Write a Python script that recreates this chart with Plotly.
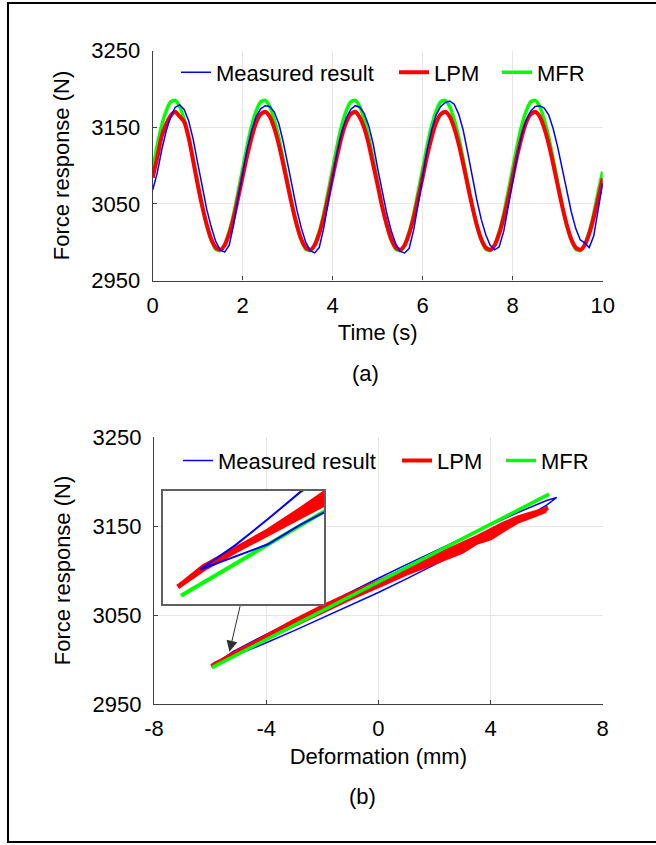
import plotly.graph_objects as go

W, H = 656, 845

# ---------------- (a) time history ----------------
time_s = [0.0, 0.1, 0.2, 0.3, 0.4, 0.5, 0.6, 0.7, 0.8, 0.9,
          1.0, 1.1, 1.2, 1.3, 1.4, 1.5, 1.6, 1.7, 1.8, 1.9,
          2.0, 2.1, 2.2, 2.3, 2.4, 2.5, 2.6, 2.7, 2.8, 2.9,
          3.0, 3.1, 3.2, 3.3, 3.4, 3.5, 3.6, 3.7, 3.8, 3.9,
          4.0, 4.1, 4.2, 4.3, 4.4, 4.5, 4.6, 4.7, 4.8, 4.9,
          5.0, 5.1, 5.2, 5.3, 5.4, 5.5, 5.6, 5.7, 5.8, 5.9,
          6.0, 6.1, 6.2, 6.3, 6.4, 6.5, 6.6, 6.7, 6.8, 6.9,
          7.0, 7.1, 7.2, 7.3, 7.4, 7.5, 7.6, 7.7, 7.8, 7.9,
          8.0, 8.1, 8.2, 8.3, 8.4, 8.5, 8.6, 8.7, 8.8, 8.9,
          9.0, 9.1, 9.2, 9.3, 9.4, 9.5, 9.6, 9.7, 9.8, 9.9, 10.0]

measured_force = [3068, 3090, 3120, 3145, 3164, 3176, 3179, 3173, 3158, 3134,
                  3103, 3072, 3043, 3020, 3001, 2990, 2987, 2996, 3023, 3058,
                  3092, 3121, 3146, 3164, 3174, 3178, 3177, 3170, 3155, 3131,
                  3102, 3071, 3043, 3019, 3000, 2989, 2986, 2993, 3018, 3052,
                  3086, 3117, 3143, 3162, 3173, 3178, 3176, 3168, 3152, 3128,
                  3096, 3066, 3038, 3015, 2998, 2988, 2986, 2992, 3016, 3050,
                  3088, 3120, 3147, 3166, 3177, 3182, 3184, 3180, 3167, 3146,
                  3117, 3086, 3056, 3030, 3010, 2996, 2990, 2994, 3014, 3046,
                  3080, 3112, 3140, 3159, 3171, 3177, 3178, 3175, 3166, 3148,
                  3124, 3095, 3066, 3040, 3018, 3003, 2999, 2993, 3008, 3042, 3077]

lpm_force = [3084, 3110, 3138, 3154, 3165, 3170, 3164, 3157, 3136, 3106,
             3075, 3047, 3023, 3004, 2993, 2990, 2996, 3011, 3032, 3058,
             3086, 3113, 3137, 3156, 3167, 3170, 3164, 3149, 3128, 3102,
             3074, 3047, 3023, 3004, 2993, 2990, 2996, 3011, 3032, 3058,
             3086, 3113, 3138, 3156, 3167, 3170, 3163, 3149, 3128, 3101,
             3074, 3046, 3023, 3004, 2993, 2990, 2996, 3011, 3032, 3058,
             3085, 3113, 3137, 3156, 3167, 3170, 3164, 3149, 3128, 3102,
             3074, 3047, 3023, 3004, 2993, 2990, 2996, 3011, 3032, 3057,
             3085, 3113, 3137, 3156, 3167, 3170, 3164, 3149, 3128, 3102,
             3074, 3047, 3023, 3004, 2993, 2990, 2996, 3011, 3032, 3057, 3083]

mfr_force = [3094, 3126, 3152, 3171, 3183, 3185, 3177, 3160, 3137, 3108,
             3078, 3048, 3022, 3003, 2991, 2989, 2997, 3014, 3037, 3066,
             3096, 3126, 3152, 3171, 3183, 3185, 3177, 3160, 3137, 3108,
             3078, 3048, 3022, 3003, 2991, 2989, 2997, 3014, 3037, 3066,
             3096, 3126, 3152, 3171, 3183, 3185, 3177, 3160, 3137, 3108,
             3078, 3048, 3022, 3003, 2991, 2989, 2997, 3014, 3037, 3066,
             3096, 3126, 3152, 3171, 3183, 3185, 3177, 3160, 3137, 3108,
             3078, 3048, 3022, 3003, 2991, 2989, 2997, 3014, 3037, 3066,
             3096, 3126, 3152, 3171, 3183, 3185, 3177, 3160, 3137, 3108,
             3078, 3048, 3022, 3003, 2991, 2989, 2997, 3014, 3037, 3066, 3092]

time_ticks = [0, 2, 4, 6, 8, 10]
force_ticks = [2950, 3050, 3150, 3250]

# ---------------- (b) force-deformation ----------------
measured_def = [-5.82, -5.6, -5.4, -5.2, -5.0, -4.5, -4.0, -3.0, -2.0, -1.0, 0.0,
                1.0, 2.0, 3.0, 4.0, 5.0, 5.5, 6.0, 6.36,
                6.0, 5.5, 5.0, 4.0, 3.0, 2.0, 1.0, 0.0, -1.0, -2.0, -3.0, -4.0,
                -4.5, -5.0, -5.2, -5.4, -5.6, -5.82]
measured_loop_force = [2995.4, 2997.6, 2999.7, 3003.0, 3005.6, 3012.0, 3018.8, 3032.4,
                       3046.4, 3060.7, 3075.3, 3090.6, 3106.3, 3122.4, 3138.8, 3155.6,
                       3164.2, 3173.4, 3182.0,
                       3178.7, 3172.3, 3165.5, 3151.2, 3136.6, 3121.7, 3106.6, 3091.3,
                       3075.9, 3060.1, 3044.3, 3028.3, 3020.3, 3012.0, 3008.6, 3004.0,
                       2999.6, 2995.4]

lpm_def = [
    -5.93, -5.8, -5.6, -5.4, -5.2, -5.0, -4.5, -4.0, -3.0, -2.0, -1.0, 0.0,
    1.0, 2.0, 3.0, 3.5, 4.0, 4.5, 5.0, 5.5, 5.8, 6.0,
    5.8, 5.5, 5.0, 4.5, 4.0, 3.5, 3.0, 2.0, 1.0, 0.0, -1.0, -2.0, -3.0, -4.0,
    -4.5, -5.0, -5.2, -5.4, -5.6, -5.8,
    -5.96,
    -5.8, -5.6, -5.4, -5.2, -5.0, -4.5, -4.0, -3.0, -2.0, -1.0, 0.0,
    1.0, 2.0, 3.0, 3.5, 4.0, 4.5, 5.0, 5.5, 5.8,
    6.05,
    5.8, 5.5, 5.0, 4.5, 4.0, 3.5, 3.0, 2.0, 1.0, 0.0, -1.0, -2.0, -3.0, -4.0,
    -4.5, -5.0, -5.2, -5.4, -5.6, -5.8,
    -5.90,
    -5.8, -5.6, -5.4, -5.2, -5.0, -4.5, -4.0, -3.0, -2.0, -1.0, 0.0,
    1.0, 2.0, 3.0, 3.5, 4.0, 4.5, 5.0, 5.5, 5.8,
    5.97,
    5.8, 5.5, 5.0, 4.5, 4.0, 3.5, 3.0, 2.0, 1.0, 0.0, -1.0, -2.0, -3.0, -4.0,
    -4.5, -5.0, -5.2, -5.4, -5.6, -5.8,
    -5.93]
lpm_loop_force = [
    # cycle 1 loading
    2993.0, 2995.5, 2998.6, 3001.5, 3004.5, 3007.3, 3015.3, 3023.3, 3039.5, 3055.3,
    3069.5, 3083.5, 3097.5, 3111.5, 3126.0, 3133.0, 3141.0, 3149.0, 3156.1, 3161.8,
    3165.6, 3168.5,
    # cycle 1 unloading
    3166.4, 3163.2, 3157.9, 3151.0, 3143.0, 3135.0, 3128.0, 3113.5, 3099.5, 3085.5,
    3071.5, 3057.3, 3041.5, 3024.7, 3016.6, 3008.4, 3005.1, 3001.8, 2998.75, 2995.7,
    2992.4,
    # cycle 2 loading
    2995.6, 2998.7, 3001.7, 3004.9, 3008.0, 3016.1, 3024.1, 3039.9, 3055.7, 3069.9,
    3083.9, 3097.9, 3111.9, 3126.4, 3133.4, 3141.4, 3149.4, 3156.5, 3162.1, 3165.8,
    3170.5,
    # cycle 2 unloading
    3166.9, 3164.0, 3159.0, 3152.2, 3144.0, 3136.2, 3129.2, 3114.7, 3100.7, 3086.7,
    3072.7, 3058.5, 3042.5, 3025.2, 3017.1, 3008.9, 3005.35, 3001.9, 2998.8, 2995.8,
    2993.6,
    # cycle 3 loading
    2995.6, 2998.65, 3001.6, 3004.7, 3007.6, 3015.7, 3023.7, 3038.5, 3054.3, 3068.5,
    3082.5, 3096.5, 3108.5, 3121.0, 3131.0, 3136.0, 3146.0, 3155.2, 3161.1, 3165.2,
    3167.0,
    # cycle 3 unloading
    3167.3, 3164.7, 3159.9, 3153.2, 3145.0, 3137.2, 3130.2, 3115.7, 3101.7, 3087.7,
    3073.7, 3059.5, 3043.5, 3025.8, 3017.6, 3009.4, 3005.6, 3002.0, 2998.9, 2995.9,
    2993.0]

mfr_def = [-5.94, 0.0, 6.09]
mfr_line_force = [2990.9, 3087.1, 3185.8]

def_ticks = [-8, -4, 0, 4, 8]
def_tick_labels = ["-8", "-4", "0", "4", "8"]

# ---------------- styling ----------------
FONT = "Liberation Sans, Arial, sans-serif"
FS = 22
BLUE, RED, GREEN = "#0000ff", "#ff0000", "#00ff00"
AXC = "#404040"
GRID = "#e6e6e6"

ML, MR, MT, MB = 152, 52, 50, 140
PW, PH = W - ML - MR, H - MT - MB


def xp(px):
    return (px - ML) / PW


def yp(py):
    return 1 - (py - MT) / PH


fig = go.Figure()

# (a)
fig.add_trace(go.Scatter(x=time_s, y=mfr_force, mode="lines", name="MFR",
                         line=dict(color=GREEN, width=3.5, shape="spline", smoothing=0.6),
                         xaxis="x", yaxis="y", legend="legend3"))
fig.add_trace(go.Scatter(x=time_s, y=lpm_force, mode="lines", name="LPM",
                         line=dict(color=RED, width=4, shape="spline", smoothing=0.6),
                         xaxis="x", yaxis="y", legend="legend2"))
fig.add_trace(go.Scatter(x=time_s, y=measured_force, mode="lines", name="Measured result",
                         line=dict(color=BLUE, width=1.5),
                         xaxis="x", yaxis="y", legend="legend"))

# (b) main
fig.add_trace(go.Scatter(x=measured_def, y=measured_loop_force, mode="lines",
                         name="Measured result", line=dict(color=BLUE, width=1.5),
                         xaxis="x2", yaxis="y2", legend="legend4"))
fig.add_trace(go.Scatter(x=lpm_def, y=lpm_loop_force, mode="lines", name="LPM",
                         line=dict(color=RED, width=4),
                         xaxis="x2", yaxis="y2", legend="legend5"))
fig.add_trace(go.Scatter(x=mfr_def, y=mfr_line_force, mode="lines", name="MFR",
                         line=dict(color=GREEN, width=3.5),
                         xaxis="x2", yaxis="y2", legend="legend6"))

# (b) inset (zoom of the lower-left end)
fig.add_trace(go.Scatter(x=lpm_def, y=lpm_loop_force, mode="lines",
                         line=dict(color=RED, width=5), showlegend=False,
                         xaxis="x3", yaxis="y3"))
fig.add_trace(go.Scatter(x=mfr_def, y=mfr_line_force, mode="lines",
                         line=dict(color=GREEN, width=4), showlegend=False,
                         xaxis="x3", yaxis="y3"))
fig.add_trace(go.Scatter(x=measured_def, y=measured_loop_force, mode="lines",
                         line=dict(color=BLUE, width=2), showlegend=False,
                         xaxis="x3", yaxis="y3"))

axis_common = dict(showline=True, linecolor=AXC, linewidth=1.3, ticks="inside",
                   ticklen=4, tickcolor=AXC, tickwidth=1.3, showgrid=True,
                   gridcolor=GRID, gridwidth=1, zeroline=False, automargin=False,
                   tickfont=dict(family=FONT, size=FS, color="#000000"))
title_font = dict(family=FONT, size=FS, color="#000000")

fig.update_layout(
    width=W, height=H,
    margin=dict(l=ML, r=MR, t=MT, b=MB, autoexpand=False),
    paper_bgcolor="white", plot_bgcolor="white",
    font=dict(family=FONT, size=FS, color="#000000"),
    xaxis=dict(domain=[xp(152.7), xp(602.7)], range=[0, 10], tickvals=time_ticks,
               anchor="y", ticklabelstandoff=5,
               title=dict(text="Time (s)", standoff=7, font=title_font), **axis_common),
    yaxis=dict(domain=[yp(280.5), yp(50.5)], range=[2950, 3250], tickvals=force_ticks,
               anchor="x", ticklabelstandoff=7,
               title=dict(text="Force response (N)", standoff=15, font=title_font),
               **axis_common),
    xaxis2=dict(domain=[xp(154), xp(602.7)], range=[-8, 8], tickvals=def_ticks,
                ticktext=def_tick_labels,
                anchor="y2", ticklabelstandoff=4,
                title=dict(text="Deformation (mm)", standoff=9, font=title_font),
                **axis_common),
    yaxis2=dict(domain=[yp(704), yp(437)], range=[2950, 3250], tickvals=force_ticks,
                anchor="x2", ticklabelstandoff=7,
                title=dict(text="Force response (N)", standoff=15, font=title_font),
                **axis_common),
    xaxis3=dict(domain=[xp(163.3), xp(324.3)], range=[-6.05, -5.05], anchor="y3",
                showline=True, mirror=True, linecolor="#606060", linewidth=1.5,
                showticklabels=False, ticks="", showgrid=False, zeroline=False),
    yaxis3=dict(domain=[yp(604), yp(491)], range=[2989.5, 3008.8], anchor="x3",
                showline=True, mirror=True, linecolor="#606060", linewidth=1.5,
                showticklabels=False, ticks="", showgrid=False, zeroline=False),
    showlegend=True,
)

leg_common = dict(orientation="h", xanchor="left", yanchor="middle",
                  bgcolor="rgba(0,0,0,0)", borderwidth=0,
                  font=dict(family=FONT, size=FS, color="#000000"))
fig.update_layout(
    legend=dict(x=xp(176), y=yp(72.5), **leg_common),
    legend2=dict(x=xp(394), y=yp(72.5), **leg_common),
    legend3=dict(x=xp(497), y=yp(72.5), **leg_common),
    legend4=dict(x=xp(178), y=yp(460.7), **leg_common),
    legend5=dict(x=xp(397), y=yp(460.7), **leg_common),
    legend6=dict(x=xp(501), y=yp(460.7), **leg_common),
)

fig.add_annotation(text="(a)", xref="paper", yref="paper", x=xp(365), y=yp(373),
                   showarrow=False, font=dict(family=FONT, size=FS),
                   xanchor="center", yanchor="middle")
fig.add_annotation(text="(b)", xref="paper", yref="paper", x=xp(362), y=yp(796),
                   showarrow=False, font=dict(family=FONT, size=FS),
                   xanchor="center", yanchor="middle")
# arrow from the inset to the loop tip
fig.add_annotation(x=-5.31, y=3008.8, xref="x2", yref="y2", ax=11, ay=-47,
                   axref="pixel", ayref="pixel", text="", showarrow=True,
                   arrowhead=2, arrowsize=2.2, arrowwidth=1.0, arrowcolor="#303030")

# outer frame
fig.add_shape(type="rect", xref="paper", yref="paper",
              x0=xp(8), x1=xp(662), y0=yp(842), y1=yp(3),
              line=dict(color="#000000", width=2), fillcolor="rgba(0,0,0,0)")

# remove the browser's default 8px body margin so the figure sits at the page origin
fig.write_html("out.html", config={"displayModeBar": False},
               post_script="document.body.style.margin='0px';document.body.style.overflow='hidden';")
